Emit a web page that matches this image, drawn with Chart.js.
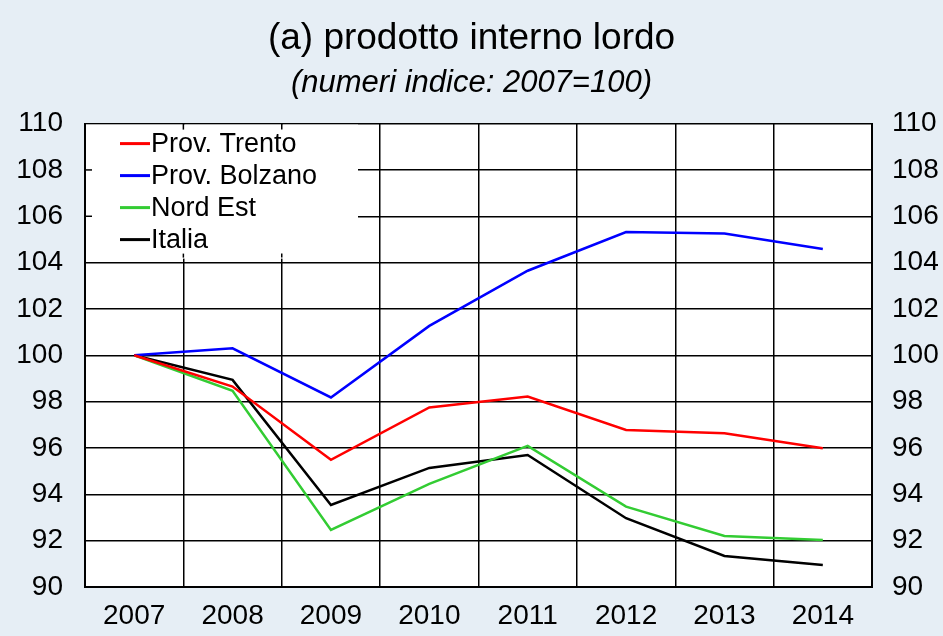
<!DOCTYPE html>
<html>
<head>
<meta charset="utf-8">
<script src="https://cdn.jsdelivr.net/npm/chart.js@4.4.1/dist/chart.umd.min.js"></script>
<style>
  html, body { margin: 0; padding: 0; background: #e6eef5; }
  #wrap { width: 943px; height: 636px; }
</style>
</head>
<body>
<div id="wrap"><canvas id="gdpChart" width="943" height="636"></canvas></div>
<script>
// ── Data ───────────────────────────────────────────
const years = ['2007', '2008', '2009', '2010', '2011', '2012', '2013', '2014'];
const trento  = [100, 98.65, 95.49, 97.75, 98.22, 96.78, 96.64, 95.99];
const bolzano = [100, 100.3, 98.18, 101.27, 103.65, 105.32, 105.26, 104.59];
const nordEst = [100, 98.47, 92.46, 94.45, 96.09, 93.47, 92.2, 92.03];
const italia  = [100, 98.94, 93.54, 95.14, 95.7, 92.97, 91.34, 90.95];
const yMin = 90, yMax = 110, yStep = 2;

const FONT = "'Liberation Sans', Arial, sans-serif";

function line(label, data, color) {
    return {
        label: label,
        data: data,
        borderColor: color,
        backgroundColor: color,
        borderWidth: 2.5,
        pointRadius: 0,
        tension: 0,
    };
}

// ── Legend drawn inside the plot, on a white box ───
const innerLegend = {
    id: 'innerLegend',
    beforeDatasetsDraw(chart) {
        const ctx = chart.ctx;
        const a = chart.chartArea;
        const boxW = 272, boxH = 134;
        ctx.save();
        ctx.fillStyle = '#ffffff';
        ctx.fillRect(a.left + 1, a.top + 1, boxW, boxH);
        // small tick stubs where grid lines meet the box
        ctx.strokeStyle = '#000';
        ctx.lineWidth = 1.5;
        const ys = chart.scales.y;
        ys.ticks.forEach(t => {
            const py = ys.getPixelForValue(t.value);
            if (py > a.top + 2 && py < a.top + boxH) {
                ctx.beginPath();
                ctx.moveTo(a.left, py);
                ctx.lineTo(a.left + 7, py);
                ctx.stroke();
            }
        });
        const xs = chart.scales.x;
        for (let i = 1; i < years.length; i++) {
            const px = (xs.getPixelForValue(i - 1) + xs.getPixelForValue(i)) / 2;
            if (px < a.left + boxW) {
                ctx.beginPath();
                ctx.moveTo(px, a.top);
                ctx.lineTo(px, a.top + 6);
                ctx.stroke();
                ctx.beginPath();
                ctx.moveTo(px, a.top + boxH - 4);
                ctx.lineTo(px, a.top + boxH);
                ctx.stroke();
            }
        }
        ctx.font = '27px ' + FONT;
        ctx.textBaseline = 'middle';
        ctx.textAlign = 'left';
        chart.data.datasets.forEach((ds, i) => {
            const cy = a.top + 20 + i * 32;
            ctx.strokeStyle = ds.borderColor;
            ctx.lineWidth = 3;
            ctx.beginPath();
            ctx.moveTo(a.left + 35, cy);
            ctx.lineTo(a.left + 65, cy);
            ctx.stroke();
            ctx.fillStyle = '#000';
            ctx.fillText(ds.label, a.left + 66, cy + 1);
        });
        ctx.restore();
    }
};

const canvasBg = {
    id: 'canvasBg',
    beforeDraw(chart) {
        const ctx = chart.ctx;
        const a = chart.chartArea;
        ctx.save();
        ctx.fillStyle = '#e6eef5';
        ctx.fillRect(0, 0, chart.width, chart.height);
        ctx.fillStyle = '#ffffff';
        ctx.fillRect(a.left, a.top, a.right - a.left, a.bottom - a.top);
        ctx.restore();
    }
};

new Chart(document.getElementById('gdpChart'), {
    type: 'line',
    data: {
        labels: years,
        datasets: [
            line('Prov. Trento', trento, '#ff0000'),
            line('Prov. Bolzano', bolzano, '#0000ff'),
            line('Nord Est', nordEst, '#33cc33'),
            line('Italia', italia, '#000000'),
        ]
    },
    options: {
        responsive: false,
        animation: false,
        layout: { padding: { left: 0, right: 0, top: 0, bottom: 0 } },
        plugins: {
            legend: { display: false },
            tooltip: { enabled: false },
            title: {
                display: true,
                text: '(a) prodotto interno lordo',
                color: '#000',
                font: { family: FONT, size: 37, weight: 'normal', lineHeight: 1.2 },
                padding: { top: 17, bottom: 3 }
            },
            subtitle: {
                display: true,
                text: '(numeri indice: 2007=100)',
                color: '#000',
                font: { family: FONT, size: 31, style: 'italic', lineHeight: 1.2 },
                padding: { top: 0, bottom: 22 }
            }
        },
        scales: {
            x: {
                offset: true,
                grid: { offset: true, color: '#000', lineWidth: 1.5, drawTicks: false },
                border: { color: '#000', width: 2 },
                ticks: { color: '#000', font: { family: FONT, size: 28 }, padding: 12, maxRotation: 0 },
                afterFit: s => { s.height = 49; }
            },
            y: {
                min: yMin, max: yMax,
                grid: { color: '#000', lineWidth: 1.5, drawTicks: false },
                border: { color: '#000', width: 2 },
                ticks: { stepSize: yStep, color: '#000', font: { family: FONT, size: 28 }, padding: 22 },
                afterFit: s => { s.width = 85; }
            },
            y2: {
                position: 'right',
                min: yMin, max: yMax,
                grid: { display: false, drawTicks: false },
                border: { color: '#000', width: 2 },
                ticks: { stepSize: yStep, color: '#000', font: { family: FONT, size: 28 }, padding: 20 },
                afterFit: s => { s.width = 71; }
            }
        }
    },
    plugins: [canvasBg, innerLegend]
});
</script>
</body>
</html>
